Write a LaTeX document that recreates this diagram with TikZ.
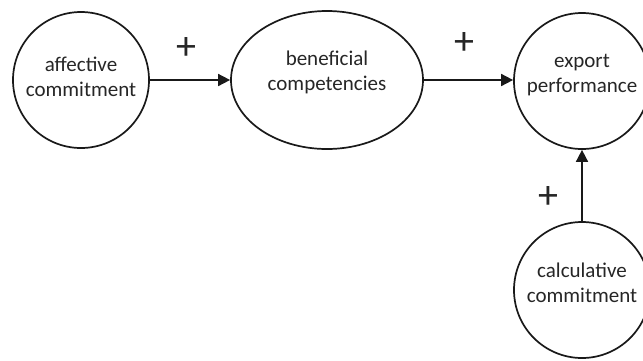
\documentclass[tikz,border=0pt]{standalone}
\usepackage{fontspec}
\setmainfont{Carlito}
\usetikzlibrary{arrows.meta, shapes.geometric}

\begin{document}
\begin{tikzpicture}[x=1pt, y=-1pt,
var/.style = {% constructs
    circle, draw=black!90, line width=1.7pt, minimum size=136pt,
    inner sep=0pt, align=center, text=black!85,
    font=\fontsize{21}{25}\selectfont,
            },
arr/.style = {% paths
    -{Triangle[length=12pt,width=12pt]}, line width=1.6pt, draw=black!90,
            },
sg/.style = {% signs
    inner sep=0pt, text=black!85, font=\fontsize{40}{40}\selectfont,
            },                        ]

  \clip (0,0) rectangle (643,360);

  \node[var, text depth=6.5pt] (aff) at (81,80) {affective\\commitment};
  \node[var, ellipse, minimum width=192pt, minimum height=138pt,
      text depth=18pt] (ben) at (327,80) {beneficial\\competencies};
  \node[var, text depth=16pt] (exp) at (582,81) {export\\performance};
  \node[var, text depth=14.5pt] (cal) at (582,290) {calculative\\commitment};

  \draw[arr] (aff) -- (ben);
  \draw[arr] (ben.east) -- (ben.east -| exp.west);
  \draw[arr] (cal) -- (exp);

  \node[sg] (p1) at (186,48) {+};
  \node[sg] (p2) at (464,43) {+};
  \node[sg] (p3) at (548,197) {+};

\end{tikzpicture}
\end{document}
